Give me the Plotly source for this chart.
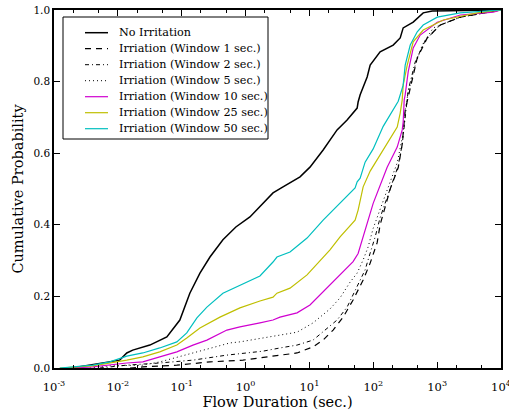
import plotly.graph_objects as go

# ---- data (x in seconds, y cumulative probability) ----
no_irr_x = [0.0019, 0.0052, 0.0107, 0.0138, 0.0171, 0.0317, 0.0585, 0.0935, 0.134, 0.193, 0.277, 0.442,
            0.705, 1.17, 1.68, 2.69, 3.86, 7.13, 10.2, 16.4, 27.1, 38.9, 55.9, 57.9, 62.3, 80.2, 89.4,
            128, 205, 264, 294, 422, 605, 838, 10000]
no_irr_y = [0.0, 0.012, 0.022, 0.042, 0.05, 0.064, 0.087, 0.134, 0.209, 0.265, 0.31, 0.358,
            0.394, 0.422, 0.45, 0.489, 0.506, 0.534, 0.561, 0.609, 0.665, 0.693, 0.726, 0.743, 0.763, 0.813, 0.846,
            0.883, 0.902, 0.922, 0.95, 0.966, 0.992, 0.997, 1.0]

w1_x = [0.0155, 0.0246, 0.0839, 0.277, 0.910, 1.68, 6.40, 11.4, 16.4, 23.5, 33.7, 48.3, 69.4, 89.4,
        115, 128, 184, 246, 284, 316, 379, 488, 700, 1119, 2303, 10000]
w1_y = [0.0, 0.003, 0.008, 0.017, 0.022, 0.028, 0.042, 0.059, 0.078, 0.106, 0.142, 0.19, 0.246, 0.293,
        0.35, 0.40, 0.5, 0.56, 0.625, 0.72, 0.782, 0.866, 0.922, 0.958, 0.98, 1.0]

w2_x = [0.0052, 0.0138, 0.0453, 0.150, 0.510, 1.87, 3.46, 6.40, 11.4, 18.9, 27.1, 38.9, 55.9, 74.5,
        89.4, 107, 128, 184, 246, 284, 316, 352, 454, 652, 1119, 2303, 10000]
w2_y = [0.0, 0.008, 0.014, 0.022, 0.036, 0.047, 0.056, 0.064, 0.078, 0.112, 0.134, 0.17, 0.226, 0.274,
        0.321, 0.366, 0.42, 0.50, 0.565, 0.625, 0.71, 0.775, 0.855, 0.915, 0.958, 0.98, 1.0]

w5_x = [0.00364, 0.00747, 0.0246, 0.0453, 0.150, 0.356, 0.569, 0.816, 1.87, 3.46, 6.40, 11.4, 21.0,
        30.2, 43.4, 55.9, 69.4, 83.0, 99.6, 165, 237, 294, 316, 352, 454, 584, 869, 2303, 10000]
w5_y = [0.0, 0.006, 0.008, 0.017, 0.042, 0.059, 0.07, 0.073, 0.084, 0.092, 0.1, 0.126, 0.165,
        0.196, 0.24, 0.265, 0.302, 0.338, 0.39, 0.497, 0.573, 0.656, 0.72, 0.77, 0.846, 0.902, 0.95, 0.98, 1.0]

w10_x = [0.00177, 0.00405, 0.0138, 0.0246, 0.0453, 0.0839, 0.150, 0.248, 0.510, 0.816, 1.68, 2.69, 3.46,
         6.40, 10.2, 17.6, 30.2, 48.3, 57.9, 69.4, 89.4, 99.6, 165, 237, 284, 294, 305, 316, 352, 422,
         543, 1005, 2303, 7580, 10000]
w10_y = [0.0, 0.003, 0.014, 0.017, 0.031, 0.045, 0.064, 0.078, 0.106, 0.115, 0.126, 0.134, 0.142,
         0.154, 0.176, 0.218, 0.262, 0.297, 0.32, 0.367, 0.43, 0.46, 0.561, 0.617, 0.665, 0.687, 0.749, 0.763,
         0.827, 0.894, 0.93, 0.966, 0.986, 0.994, 1.0]

w25_x = [0.00123, 0.00405, 0.0138, 0.0246, 0.0453, 0.0839, 0.120, 0.193, 0.397, 0.816, 1.68, 2.69, 3.10,
         4.97, 9.18, 16.4, 21.0, 30.2, 51.9, 57.9, 69.4, 89.4, 165, 237, 264, 284, 294, 340, 422, 605,
         1247, 4255, 10000]
w25_y = [0.0, 0.006, 0.022, 0.031, 0.045, 0.064, 0.084, 0.112, 0.142, 0.168, 0.187, 0.198, 0.209,
         0.223, 0.26, 0.31, 0.33, 0.366, 0.413, 0.441, 0.506, 0.55, 0.628, 0.673, 0.712, 0.749, 0.79, 0.846,
         0.911, 0.944, 0.972, 0.992, 1.0]

w50_x = [0.00123, 0.00405, 0.00747, 0.0138, 0.0246, 0.0453, 0.0839, 0.120, 0.173, 0.248, 0.442, 0.816,
         1.68, 2.69, 3.10, 4.97, 9.18, 16.4, 30.2, 51.9, 55.9, 62.3, 74.5, 99.6, 143, 205, 246, 294, 316,
         379, 488, 605, 1005, 2303, 7580, 10000]
w50_y = [0.0, 0.008, 0.017, 0.033, 0.042, 0.056, 0.073, 0.098, 0.14, 0.17, 0.209, 0.232,
         0.257, 0.296, 0.31, 0.324, 0.363, 0.413, 0.461, 0.503, 0.52, 0.53, 0.575, 0.612, 0.675, 0.72, 0.745,
         0.79, 0.846, 0.902, 0.939, 0.958, 0.98, 0.992, 0.997, 1.0]

x_tick_vals = [0.001, 0.01, 0.1, 1, 10, 100, 1000, 10000]
x_tick_text = ["10<sup>-3</sup>", "10<sup>-2</sup>", "10<sup>-1</sup>", "10<sup>0</sup>",
               "10<sup>1</sup>", "10<sup>2</sup>", "10<sup>3</sup>", "10<sup>4</sup>"]
y_tick_vals = [0.0, 0.2, 0.4, 0.6, 0.8, 1.0]

series_names = ["No Irritation", "Irriation (Window 1 sec.)", "Irriation (Window 2 sec.)",
                "Irriation (Window 5 sec.)", "Irriation (Window 10 sec.)",
                "Irriation (Window 25 sec.)", "Irriation (Window 50 sec.)"]
series_x = [no_irr_x, w1_x, w2_x, w5_x, w10_x, w25_x, w50_x]
series_y = [no_irr_y, w1_y, w2_y, w5_y, w10_y, w25_y, w50_y]
series_color = ["black", "black", "black", "black", "#D000D0", "#BFBF00", "#00BFBF"]
series_dash = ["solid", "6px,5px", "4px,3px,1px,3px", "1px,3px", "solid", "solid", "solid"]
series_width = [1.5, 1.2, 1.0, 1.0, 1.2, 1.2, 1.2]

FONT = "DejaVu Serif"
W, H = 509, 413
ML, MR, MT, MB = 54, 8, 10, 45
PW, PH = W - ML - MR, H - MT - MB


def px_to_paper(px, py):
    return (px - ML) / PW, (H - MB - py) / PH


fig = go.Figure()
for name, xs, ys, color, dash, width in zip(series_names, series_x, series_y,
                                             series_color, series_dash, series_width):
    fig.add_trace(go.Scatter(x=xs, y=ys, mode="lines", name=name, showlegend=False,
                             line=dict(color=color, dash=dash, width=width)))

# ---- hand-built legend (box, key lines, labels) ----
shapes = []
annotations = []
bx0, by0 = px_to_paper(63, 139)
bx1, by1 = px_to_paper(268, 17)
shapes.append(dict(type="rect", xref="paper", yref="paper", x0=bx0, y0=by0, x1=bx1, y1=by1,
                   line=dict(color="black", width=1), fillcolor="white", layer="above"))
row0, row_step = 32.7, 16.0
for i, (name, color, dash, width) in enumerate(zip(series_names, series_color, series_dash, series_width)):
    py = row0 + i * row_step
    lx0, ly = px_to_paper(85, py)
    lx1, _ = px_to_paper(108, py)
    tx, _ = px_to_paper(117, py)
    shapes.append(dict(type="line", xref="paper", yref="paper", x0=lx0, x1=lx1, y0=ly, y1=ly,
                       line=dict(color=color, dash=dash, width=width), layer="above"))
    annotations.append(dict(xref="paper", yref="paper", x=tx, y=ly, text=name, showarrow=False,
                            xanchor="left", yanchor="middle",
                            font=dict(family=FONT, size=11.2, color="black")))

fig.update_layout(
    width=W, height=H,
    margin=dict(l=ML, r=MR, t=MT, b=MB, autoexpand=False),
    paper_bgcolor="white", plot_bgcolor="white",
    font=dict(family=FONT, color="black", size=11),
    showlegend=False, hovermode=False,
    shapes=shapes, annotations=annotations,
)

fig.update_xaxes(
    type="log", range=[-3, 4.0002], automargin=False,
    tickvals=x_tick_vals, ticktext=x_tick_text,
    ticks="inside", ticklen=6, tickcolor="black", tickwidth=1,
    showline=True, linecolor="black", linewidth=1.5, mirror="ticks",
    showgrid=False, zeroline=False,
    tickfont=dict(family=FONT, size=11.5), ticklabelstandoff=7, ticklabeloverflow="allow",
    minor=dict(ticks="inside", ticklen=3, tickcolor="black", showgrid=False),
    title=dict(text="Flow Duration (sec.)", font=dict(family=FONT, size=14.5), standoff=2),
)
fig.update_yaxes(
    range=[0, 1], tickvals=y_tick_vals, tickformat=".1f", automargin=False,
    ticks="inside", ticklen=6, tickcolor="black", tickwidth=1,
    showline=True, linecolor="black", linewidth=1.5, mirror="ticks",
    showgrid=False, zeroline=False,
    tickfont=dict(family=FONT, size=10.5), ticklabeloverflow="allow",
    title=dict(text="Cumulative Probability", font=dict(family=FONT, size=14.5), standoff=6),
)

fig.write_html("out.html", config={"displayModeBar": False},
               post_script="document.body.style.margin='0px';")
